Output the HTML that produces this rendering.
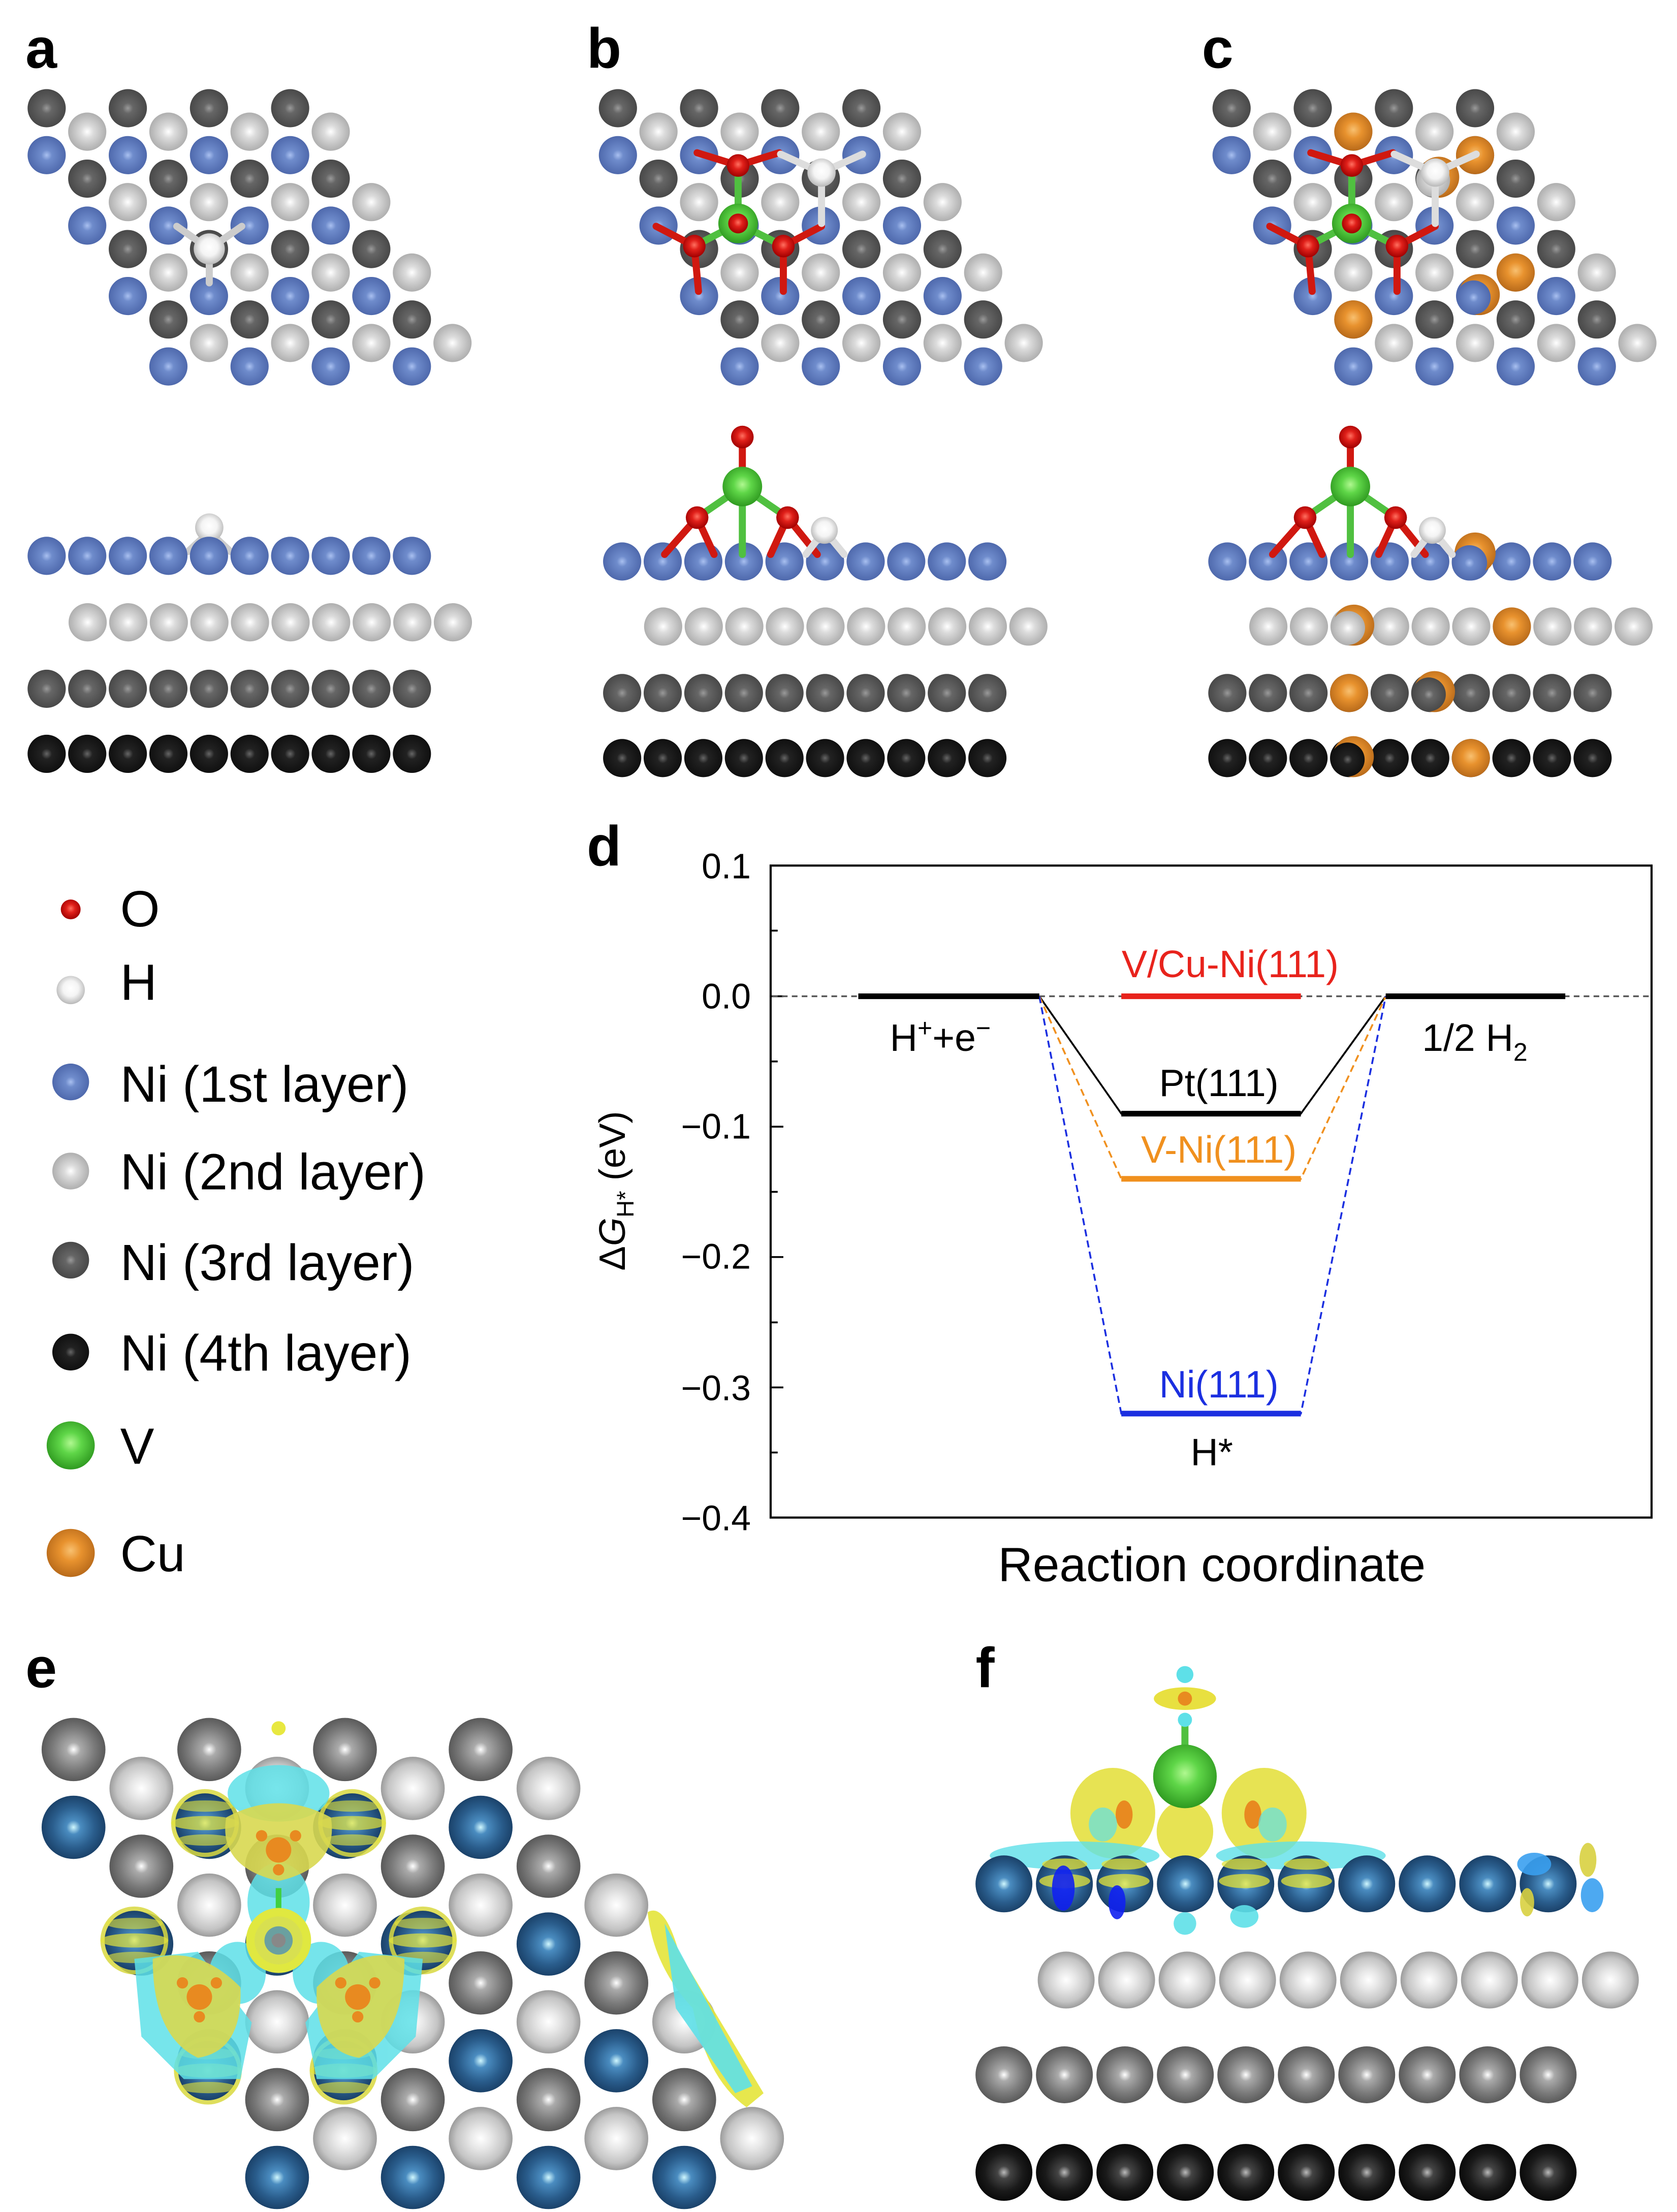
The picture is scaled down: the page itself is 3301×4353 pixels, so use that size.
<!DOCTYPE html>
<html><head><meta charset="utf-8"><style>html,body{margin:0;padding:0;background:#fff}svg{display:block}text{font-family:"Liberation Sans",sans-serif}</style></head>
<body>
<svg xmlns="http://www.w3.org/2000/svg" xmlns:xlink="http://www.w3.org/1999/xlink" width="3301" height="4353" viewBox="0 0 1186 1564" preserveAspectRatio="none">
<defs>
<radialGradient id="bl" cx="50%" cy="50%" r="55%"><stop offset="0" stop-color="#a9c0f0"/><stop offset="0.25" stop-color="#6f8ccc"/><stop offset="1" stop-color="#4a64a8"/></radialGradient>
<radialGradient id="lt" cx="50%" cy="50%" r="55%"><stop offset="0" stop-color="#ffffff"/><stop offset="0.3" stop-color="#dcdcdc"/><stop offset="1" stop-color="#a8a8a8"/></radialGradient>
<radialGradient id="dk" cx="50%" cy="50%" r="55%"><stop offset="0" stop-color="#9a9a9a"/><stop offset="0.25" stop-color="#666"/><stop offset="1" stop-color="#444"/></radialGradient>
<radialGradient id="bk" cx="50%" cy="50%" r="55%"><stop offset="0" stop-color="#666"/><stop offset="0.25" stop-color="#222"/><stop offset="1" stop-color="#0d0d0d"/></radialGradient>
<radialGradient id="or" cx="50%" cy="45%" r="55%"><stop offset="0" stop-color="#f8c070"/><stop offset="0.4" stop-color="#e8922e"/><stop offset="1" stop-color="#b86a1a"/></radialGradient>
<radialGradient id="gr" cx="50%" cy="45%" r="55%"><stop offset="0" stop-color="#b0f890"/><stop offset="0.4" stop-color="#5fd648"/><stop offset="1" stop-color="#2f9a20"/></radialGradient>
<radialGradient id="rd" cx="50%" cy="45%" r="55%"><stop offset="0" stop-color="#ff7060"/><stop offset="0.4" stop-color="#e0201a"/><stop offset="1" stop-color="#a00000"/></radialGradient>
<radialGradient id="wh" cx="50%" cy="45%" r="55%"><stop offset="0" stop-color="#fff"/><stop offset="0.5" stop-color="#f4f4f4"/><stop offset="1" stop-color="#b8b8b8"/></radialGradient>
<radialGradient id="eb" cx="50%" cy="50%" r="55%"><stop offset="0" stop-color="#d0f8ff"/><stop offset="0.2" stop-color="#4a8cc0"/><stop offset="0.6" stop-color="#2a5d8c"/><stop offset="1" stop-color="#163a60"/></radialGradient>
<radialGradient id="ed" cx="50%" cy="50%" r="55%"><stop offset="0" stop-color="#fff"/><stop offset="0.2" stop-color="#aaa"/><stop offset="0.6" stop-color="#7a7a7a"/><stop offset="1" stop-color="#505050"/></radialGradient>
<radialGradient id="el" cx="50%" cy="50%" r="55%"><stop offset="0" stop-color="#fff"/><stop offset="0.3" stop-color="#e8e8e8"/><stop offset="0.7" stop-color="#c4c4c4"/><stop offset="1" stop-color="#8a8a8a"/></radialGradient>
<radialGradient id="ek" cx="50%" cy="50%" r="55%"><stop offset="0" stop-color="#bbb"/><stop offset="0.2" stop-color="#444"/><stop offset="0.6" stop-color="#1a1a1a"/><stop offset="1" stop-color="#050505"/></radialGradient>

<g id="latD">
<circle cx="0" cy="0" r="13.5"/><circle cx="57.4" cy="0" r="13.5"/><circle cx="114.8" cy="0" r="13.5"/><circle cx="172.2" cy="0" r="13.5"/>
<circle cx="28.7" cy="49.8" r="13.5"/><circle cx="86.1" cy="49.8" r="13.5"/><circle cx="143.5" cy="49.8" r="13.5"/><circle cx="200.9" cy="49.8" r="13.5"/>
<circle cx="57.4" cy="99.6" r="13.5"/><circle cx="114.8" cy="99.6" r="13.5"/><circle cx="172.2" cy="99.6" r="13.5"/><circle cx="229.6" cy="99.6" r="13.5"/>
<circle cx="86.1" cy="149.4" r="13.5"/><circle cx="143.5" cy="149.4" r="13.5"/><circle cx="200.9" cy="149.4" r="13.5"/><circle cx="258.3" cy="149.4" r="13.5"/>
</g>
<g id="latL">
<circle cx="28.7" cy="16.6" r="13.5"/><circle cx="86.1" cy="16.6" r="13.5"/><circle cx="143.5" cy="16.6" r="13.5"/><circle cx="200.9" cy="16.6" r="13.5"/>
<circle cx="57.4" cy="66.4" r="13.5"/><circle cx="114.8" cy="66.4" r="13.5"/><circle cx="172.2" cy="66.4" r="13.5"/><circle cx="229.6" cy="66.4" r="13.5"/>
<circle cx="86.1" cy="116.2" r="13.5"/><circle cx="143.5" cy="116.2" r="13.5"/><circle cx="200.9" cy="116.2" r="13.5"/><circle cx="258.3" cy="116.2" r="13.5"/>
<circle cx="114.8" cy="166" r="13.5"/><circle cx="172.2" cy="166" r="13.5"/><circle cx="229.6" cy="166" r="13.5"/><circle cx="287" cy="166" r="13.5"/>
</g>
<g id="latB">
<circle cx="0" cy="33.2" r="13.5"/><circle cx="57.4" cy="33.2" r="13.5"/><circle cx="114.8" cy="33.2" r="13.5"/><circle cx="172.2" cy="33.2" r="13.5"/>
<circle cx="28.7" cy="83" r="13.5"/><circle cx="86.1" cy="83" r="13.5"/><circle cx="143.5" cy="83" r="13.5"/><circle cx="200.9" cy="83" r="13.5"/>
<circle cx="57.4" cy="132.8" r="13.5"/><circle cx="114.8" cy="132.8" r="13.5"/><circle cx="172.2" cy="132.8" r="13.5"/><circle cx="229.6" cy="132.8" r="13.5"/>
<circle cx="86.1" cy="182.6" r="13.5"/><circle cx="143.5" cy="182.6" r="13.5"/><circle cx="200.9" cy="182.6" r="13.5"/><circle cx="258.3" cy="182.6" r="13.5"/>
</g>
<g id="lat">
<use xlink:href="#latD" href="#latD" fill="url(#dk)"/>
<use xlink:href="#latL" href="#latL" fill="url(#lt)"/>
<use xlink:href="#latB" href="#latB" fill="url(#bl)"/>
</g>
<g id="row">
<circle cx="0" cy="0" r="13.5"/><circle cx="28.7" cy="0" r="13.5"/><circle cx="57.4" cy="0" r="13.5"/><circle cx="86.1" cy="0" r="13.5"/><circle cx="114.8" cy="0" r="13.5"/>
<circle cx="143.5" cy="0" r="13.5"/><circle cx="172.2" cy="0" r="13.5"/><circle cx="200.9" cy="0" r="13.5"/><circle cx="229.6" cy="0" r="13.5"/><circle cx="258.3" cy="0" r="13.5"/>
</g>
<g id="cxTop" stroke-linecap="round">
<g stroke="#d01810" stroke-width="5">
<line x1="522" y1="117" x2="493" y2="108"/><line x1="522" y1="117" x2="551" y2="108"/>
<line x1="491" y1="174" x2="464" y2="160"/><line x1="491" y1="174" x2="494" y2="206"/>
<line x1="554" y1="174" x2="581" y2="160"/><line x1="554" y1="174" x2="554" y2="206"/>
</g>
<g stroke="#50c040" stroke-width="5">
<line x1="522" y1="158" x2="522" y2="117"/><line x1="522" y1="158" x2="491" y2="174"/><line x1="522" y1="158" x2="554" y2="174"/>
</g>
<circle cx="522" cy="117" r="8" fill="url(#rd)"/><circle cx="491" cy="174" r="8" fill="url(#rd)"/><circle cx="554" cy="174" r="8" fill="url(#rd)"/>
<circle cx="522" cy="158" r="14" fill="url(#gr)"/><circle cx="522" cy="158" r="7" fill="url(#rd)"/>
<g stroke="#ddd" stroke-width="5">
<line x1="581" y1="122" x2="552" y2="109"/><line x1="581" y1="122" x2="610" y2="109"/><line x1="581" y1="122" x2="581" y2="158"/>
</g>
<circle cx="581" cy="122" r="10" fill="url(#wh)"/>
</g>
<g id="cxSide" stroke-linecap="round">
<g stroke="#d01810" stroke-width="5">
<line x1="493" y1="366" x2="470" y2="392"/><line x1="493" y1="366" x2="505" y2="392"/>
<line x1="557" y1="366" x2="545" y2="392"/><line x1="557" y1="366" x2="578" y2="392"/>
<line x1="525" y1="344" x2="525" y2="309"/>
</g>
<g stroke="#50c040" stroke-width="5">
<line x1="525" y1="344" x2="525" y2="392"/><line x1="525" y1="344" x2="493" y2="366"/><line x1="525" y1="344" x2="557" y2="366"/>
</g>
<circle cx="493" cy="366" r="8" fill="url(#rd)"/><circle cx="557" cy="366" r="8" fill="url(#rd)"/><circle cx="525" cy="309" r="8" fill="url(#rd)"/>
<circle cx="525" cy="344" r="14" fill="url(#gr)"/>
<g stroke="#ddd" stroke-width="5"><line x1="583" y1="375" x2="570" y2="392"/><line x1="583" y1="375" x2="597" y2="392"/></g>
<circle cx="583" cy="375" r="9.5" fill="url(#wh)"/>
</g>
</defs>

<!-- a top -->
<use xlink:href="#lat" href="#lat" x="33" y="76.5"/>
<g stroke="#ccc" stroke-width="5" stroke-linecap="round"><line x1="148" y1="176" x2="125" y2="160"/><line x1="148" y1="176" x2="171" y2="160"/><line x1="148" y1="176" x2="148" y2="200"/></g>
<circle cx="148" cy="176" r="11" fill="url(#wh)"/>
<!-- a side -->
<use xlink:href="#row" href="#row" x="62" y="440" fill="url(#lt)"/>
<use xlink:href="#row" href="#row" x="33" y="487" fill="url(#dk)"/>
<use xlink:href="#row" href="#row" x="33" y="533" fill="url(#bk)"/>
<g stroke="#ccc" stroke-width="5" stroke-linecap="round"><line x1="148" y1="376" x2="133" y2="390"/><line x1="148" y1="376" x2="163" y2="390"/></g>
<circle cx="148" cy="373" r="10" fill="url(#wh)"/>
<use xlink:href="#row" href="#row" x="33" y="393" fill="url(#bl)"/>

<!-- b top -->
<use xlink:href="#lat" href="#lat" x="437" y="76.5"/>
<use xlink:href="#cxTop" href="#cxTop"/>
<!-- b side -->
<use xlink:href="#row" href="#row" x="469" y="443" fill="url(#lt)"/>
<use xlink:href="#row" href="#row" x="440" y="490" fill="url(#dk)"/>
<use xlink:href="#row" href="#row" x="440" y="536" fill="url(#bk)"/>
<use xlink:href="#row" href="#row" x="440" y="397" fill="url(#bl)"/>
<use xlink:href="#cxSide" href="#cxSide"/>

<!-- c top -->
<use xlink:href="#lat" href="#lat" x="871" y="76.5"/>
<circle cx="957.1" cy="93.1" r="13.5" fill="url(#or)"/>
<circle cx="1043.2" cy="109.7" r="13.5" fill="url(#or)"/>
<circle cx="1071.9" cy="192.7" r="13.5" fill="url(#or)"/>
<circle cx="957.1" cy="225.9" r="13.5" fill="url(#or)"/>
<circle cx="1017.5" cy="125.3" r="14.5" fill="url(#or)"/><circle cx="1013.5" cy="127.3" r="12" fill="url(#lt)"/>
<circle cx="1046.2" cy="208.3" r="14.5" fill="url(#or)"/><circle cx="1042.2" cy="210.3" r="12" fill="url(#bl)"/>
<use xlink:href="#cxTop" href="#cxTop" x="434"/>
<!-- c side -->
<use xlink:href="#row" href="#row" x="897" y="443" fill="url(#lt)"/>
<use xlink:href="#row" href="#row" x="868" y="490" fill="url(#dk)"/>
<use xlink:href="#row" href="#row" x="868" y="536" fill="url(#bk)"/>
<use xlink:href="#row" href="#row" x="868" y="397" fill="url(#bl)"/>
<circle cx="957.4" cy="442" r="14.5" fill="url(#or)"/><circle cx="953.4" cy="444" r="12" fill="url(#lt)"/>
<circle cx="1069.2" cy="443" r="13.5" fill="url(#or)"/>
<circle cx="954.1" cy="490" r="13.5" fill="url(#or)"/>
<circle cx="1014.5" cy="489" r="14.5" fill="url(#or)"/><circle cx="1010.5" cy="491" r="12" fill="url(#dk)"/>
<circle cx="957.1" cy="535" r="14.5" fill="url(#or)"/><circle cx="953.1" cy="537" r="12" fill="url(#bk)"/>
<circle cx="1040.2" cy="536" r="13.5" fill="url(#or)"/>
<circle cx="1043.2" cy="391" r="14.5" fill="url(#or)"/><circle cx="1039.2" cy="398" r="12.5" fill="url(#bl)"/>
<use xlink:href="#cxSide" href="#cxSide" x="430"/>

<!-- panel labels -->
<g font-weight="bold" font-size="40">
<text x="18" y="48">a</text><text x="415" y="48">b</text><text x="850" y="48">c</text>
<text x="415" y="612">d</text><text x="18" y="1193">e</text><text x="690" y="1193">f</text>
</g>

<!-- legend -->
<g font-size="36">
<circle cx="50" cy="643" r="7" fill="url(#rd)"/><text x="85" y="655">O</text>
<circle cx="50" cy="700" r="10" fill="url(#wh)"/><text x="85" y="707">H</text>
<circle cx="50" cy="765" r="13" fill="url(#bl)"/><text x="85" y="779">Ni (1st layer)</text>
<circle cx="50" cy="828" r="13" fill="url(#lt)"/><text x="85" y="841">Ni (2nd layer)</text>
<circle cx="50" cy="891" r="13" fill="url(#dk)"/><text x="85" y="905">Ni (3rd layer)</text>
<circle cx="50" cy="956" r="13" fill="url(#bk)"/><text x="85" y="969">Ni (4th layer)</text>
<circle cx="50" cy="1022" r="17" fill="url(#gr)"/><text x="85" y="1035">V</text>
<circle cx="50" cy="1098" r="17" fill="url(#or)"/><text x="85" y="1111">Cu</text>
</g>

<!-- plot d -->
<g>
<rect x="545" y="612" width="623" height="461" fill="none" stroke="#000" stroke-width="1.5"/>
<g stroke="#000" stroke-width="1.3">
<line x1="545" y1="612" x2="554" y2="612"/><line x1="545" y1="658" x2="550" y2="658"/>
<line x1="545" y1="704.4" x2="554" y2="704.4"/><line x1="545" y1="750.5" x2="550" y2="750.5"/>
<line x1="545" y1="796.6" x2="554" y2="796.6"/><line x1="545" y1="842.7" x2="550" y2="842.7"/>
<line x1="545" y1="888.8" x2="554" y2="888.8"/><line x1="545" y1="935" x2="550" y2="935"/>
<line x1="545" y1="981" x2="554" y2="981"/><line x1="545" y1="1027" x2="550" y2="1027"/>
</g>
<g font-size="25" text-anchor="end">
<text x="531" y="621">0.1</text><text x="531" y="713">0.0</text><text x="531" y="805">−0.1</text>
<text x="531" y="897">−0.2</text><text x="531" y="990">−0.3</text><text x="531" y="1082">−0.4</text>
</g>
<text transform="translate(442,842) rotate(-90)" font-size="26" text-anchor="middle">Δ<tspan font-style="italic">G</tspan><tspan font-size="17" dy="6">H*</tspan><tspan dy="-6"> (eV)</tspan></text>
<text x="857" y="1118" font-size="34" text-anchor="middle">Reaction coordinate</text>
<line x1="546" y1="704.4" x2="1167" y2="704.4" stroke="#555" stroke-width="1.2" stroke-dasharray="4,3"/>
<polyline points="735,704.4 793,787.4 920,787.4 980,704.4" fill="none" stroke="#000" stroke-width="1.3"/>
<polyline points="735,704.4 793,833.5 920,833.5 980,704.4" fill="none" stroke="#f0901e" stroke-width="1.3" stroke-dasharray="5,3"/>
<polyline points="735,704.4 793,999.5 920,999.5 980,704.4" fill="none" stroke="#1b2fe0" stroke-width="1.3" stroke-dasharray="5,3"/>
<line x1="607" y1="704.4" x2="735" y2="704.4" stroke="#000" stroke-width="4"/>
<line x1="980" y1="704.4" x2="1107" y2="704.4" stroke="#000" stroke-width="4"/>
<line x1="793" y1="704.4" x2="920" y2="704.4" stroke="#e8231c" stroke-width="4"/>
<line x1="793" y1="787.4" x2="920" y2="787.4" stroke="#000" stroke-width="4"/>
<line x1="793" y1="833.5" x2="920" y2="833.5" stroke="#f0901e" stroke-width="4"/>
<line x1="793" y1="999.5" x2="920" y2="999.5" stroke="#1b2fe0" stroke-width="4"/>
<g font-size="27" text-anchor="middle">
<text x="870" y="691" fill="#e8231c">V/Cu-Ni(111)</text>
<text x="665" y="743">H<tspan font-size="18" dy="-10">+</tspan><tspan dy="10">+e</tspan><tspan font-size="18" dy="-10">−</tspan></text>
<text x="1043" y="743">1/2 H<tspan font-size="18" dy="7">2</tspan></text>
<text x="862" y="775">Pt(111)</text>
<text x="862" y="822" fill="#f0901e">V-Ni(111)</text>
<text x="862" y="988" fill="#1b2fe0">Ni(111)</text>
<text x="857" y="1036">H*</text>
</g>
</g>

<!-- e -->
<g transform="translate(52,1237) scale(1.672,1.657)">
<use xlink:href="#latD" href="#latD" fill="url(#ed)"/>
<use xlink:href="#latL" href="#latL" fill="url(#el)"/>
<use xlink:href="#latB" href="#latB" fill="url(#eb)"/>
</g>
<g>
<g id="ys">
<circle cx="145" cy="1289" r="24" fill="#d8d840" opacity="0.85"/><circle cx="145" cy="1289" r="21" fill="url(#eb)"/>
<ellipse cx="145" cy="1289" rx="24" ry="5" fill="#e4e43a" opacity="0.7"/><ellipse cx="145" cy="1277" rx="20" ry="4" fill="#e4e43a" opacity="0.6"/><ellipse cx="145" cy="1301" rx="20" ry="4" fill="#e4e43a" opacity="0.6"/>
</g>
<use xlink:href="#ys" href="#ys" x="104"/>
<use xlink:href="#ys" href="#ys" x="-50" y="83"/>
<use xlink:href="#ys" href="#ys" x="154" y="83"/>
<use xlink:href="#ys" href="#ys" x="2" y="175"/>
<use xlink:href="#ys" href="#ys" x="98" y="175"/>
<g fill="#5ee0e8" opacity="0.85">
<ellipse cx="197" cy="1268" rx="36" ry="20"/><ellipse cx="197" cy="1345" rx="22" ry="28"/>
<ellipse cx="168" cy="1395" rx="20" ry="22"/><ellipse cx="227" cy="1395" rx="20" ry="22"/>
<path d="M95,1385 L140,1380 L178,1430 L170,1470 L130,1470 L100,1440 Z"/>
<path d="M299,1385 L254,1380 L216,1430 L224,1470 L264,1470 L294,1440 Z"/>
</g>
<g fill="#d8d850" opacity="0.9">
<path d="M160,1285 Q197,1265 234,1285 Q240,1320 197,1330 Q154,1320 160,1285 Z"/>
<path d="M108,1385 Q140,1375 170,1405 Q172,1450 140,1455 Q108,1440 108,1385 Z"/>
<path d="M286,1385 Q254,1375 224,1405 Q222,1450 254,1455 Q286,1440 286,1385 Z"/>
</g>
<g id="oe" fill="#e88a20">
<circle cx="197" cy="1308" r="9"/><circle cx="185" cy="1298" r="4"/><circle cx="209" cy="1298" r="4"/><circle cx="197" cy="1322" r="4"/>
</g>
<use xlink:href="#oe" href="#oe" x="-56" y="104"/>
<use xlink:href="#oe" href="#oe" x="56" y="104"/>
<line x1="197" y1="1335" x2="197" y2="1350" stroke="#40d040" stroke-width="4"/>
<circle cx="197" cy="1372" r="23" fill="#e0e840"/><circle cx="197" cy="1372" r="17" fill="#d8e050"/><circle cx="197" cy="1372" r="10" fill="#6aa0a0"/><circle cx="197" cy="1372" r="5" fill="#888"/>
<circle cx="197" cy="1222" r="5" fill="#e8e840"/>
<path d="M458,1352 Q470,1345 480,1380 L540,1480 L528,1490 Q500,1470 490,1420 Q462,1390 458,1352 Z" fill="#e4e43a" opacity="0.9"/>
<path d="M470,1360 L532,1475 L520,1480 L478,1420 Z" fill="#5ee0e8" opacity="0.9"/>
</g>

<!-- f -->
<use xlink:href="#row" href="#row" transform="translate(754,1400) scale(1.49)" fill="url(#el)"/>
<use xlink:href="#row" href="#row" transform="translate(710,1467) scale(1.49)" fill="url(#ed)"/>
<use xlink:href="#row" href="#row" transform="translate(710,1536) scale(1.49)" fill="url(#ek)"/>
<ellipse cx="787" cy="1282" rx="30" ry="32" fill="#e4e040" opacity="0.9"/>
<ellipse cx="894" cy="1282" rx="30" ry="32" fill="#e4e040" opacity="0.9"/>
<ellipse cx="838" cy="1295" rx="20" ry="22" fill="#e4e040" opacity="0.9"/>
<ellipse cx="760" cy="1312" rx="60" ry="10" fill="#5ee0e8" opacity="0.8"/>
<ellipse cx="920" cy="1312" rx="60" ry="10" fill="#5ee0e8" opacity="0.8"/>
<ellipse cx="795" cy="1283" rx="6" ry="10" fill="#e88a20"/>
<ellipse cx="886" cy="1283" rx="6" ry="10" fill="#e88a20"/>
<ellipse cx="780" cy="1290" rx="10" ry="12" fill="#5ee0e8" opacity="0.7"/>
<ellipse cx="900" cy="1290" rx="10" ry="12" fill="#5ee0e8" opacity="0.7"/>
<use xlink:href="#row" href="#row" transform="translate(710,1332) scale(1.49)" fill="url(#eb)"/>
<g fill="#e4e43a" opacity="0.75">
<ellipse cx="753" cy="1330" rx="18" ry="5"/><ellipse cx="753" cy="1318" rx="16" ry="4"/>
<ellipse cx="795" cy="1330" rx="18" ry="5"/><ellipse cx="795" cy="1318" rx="16" ry="4"/>
<ellipse cx="880" cy="1330" rx="18" ry="5"/><ellipse cx="880" cy="1318" rx="16" ry="4"/>
<ellipse cx="924" cy="1330" rx="18" ry="5"/><ellipse cx="924" cy="1318" rx="16" ry="4"/>
</g>
<ellipse cx="752" cy="1335" rx="8" ry="16" fill="#1020f0" opacity="0.9"/>
<ellipse cx="790" cy="1345" rx="6" ry="12" fill="#1020f0" opacity="0.9"/>
<ellipse cx="838" cy="1360" rx="8" ry="8" fill="#5ee0e8" opacity="0.9"/>
<ellipse cx="880" cy="1355" rx="10" ry="8" fill="#5ee0e8" opacity="0.9"/>
<ellipse cx="1085" cy="1318" rx="12" ry="8" fill="#3aa0f0" opacity="0.9"/>
<ellipse cx="1126" cy="1340" rx="8" ry="12" fill="#3aa0f0" opacity="0.9"/>
<ellipse cx="1123" cy="1315" rx="6" ry="12" fill="#d8d040" opacity="0.9"/>
<ellipse cx="1080" cy="1345" rx="5" ry="10" fill="#d8d040" opacity="0.9"/>
<line x1="838" y1="1256" x2="838" y2="1212" stroke="#50c040" stroke-width="5"/>
<circle cx="838" cy="1256" r="22.5" fill="url(#gr)"/>
<ellipse cx="838" cy="1201" rx="22" ry="8" fill="#e8e040"/>
<circle cx="838" cy="1201" r="5" fill="#e88a20"/>
<circle cx="838" cy="1184" r="6" fill="#5ee0e8"/>
<circle cx="838" cy="1216" r="5" fill="#5ee0e8"/>
</svg>
</body></html>
